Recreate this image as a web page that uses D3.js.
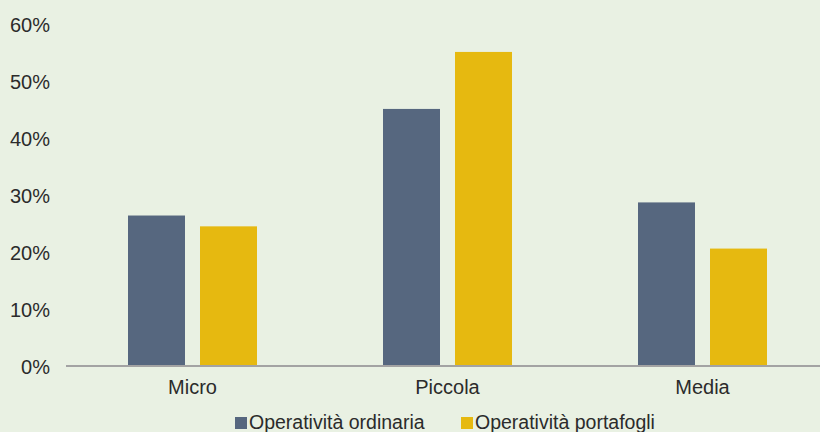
<!DOCTYPE html>
<html><head><meta charset="utf-8">
<script src="https://cdn.jsdelivr.net/npm/d3@7/dist/d3.min.js"></script>
<style>
html,body{margin:0;padding:0;background:#e9f1e3;}
text{font-family:"Liberation Sans",Arial,Helvetica,sans-serif;fill:#2b2b2b;}
</style></head>
<body>
<svg id="chart" width="820" height="432"></svg>
<script>
const categories = ["Micro", "Piccola", "Media"];
const seriesNames = ["Operatività ordinaria", "Operatività portafogli"];
const ordinaria = [26.4, 45.1, 28.7];
const portafogli = [24.5, 55.1, 20.6];
const yTicks = [0, 10, 20, 30, 40, 50, 60];
const colors = ["#56677f", "#e6b910"];

const svg = d3.select("#chart");
svg.append("rect").attr("width", 820).attr("height", 432).attr("fill", "#e9f1e3");

const y = d3.scaleLinear().domain([0, 60]).range([366, 24]);
const x0 = d3.scaleBand().domain(categories).range([65, 830]).paddingInner(0).paddingOuter(0);
const groupW = 129;
const x1 = d3.scaleBand().domain(seriesNames).range([0, groupW]).paddingInner(15/72).paddingOuter(0);
const off = (x0.bandwidth() - groupW) / 2;

const data = categories.map((c, i) => ({cat: c, vals: [ordinaria[i], portafogli[i]]}));

// y axis labels
const yAxis = d3.axisLeft(y).tickValues(yTicks).tickFormat(d => d + "%").tickSize(0).tickPadding(0);
const ya = svg.append("g").attr("transform", "translate(50,1.5)").call(yAxis);
ya.select(".domain").remove();
ya.selectAll("text").style("font-size", "20px").attr("fill", "#2b2b2b")
  .style("font-family", "'Liberation Sans',Arial,sans-serif");

// bars
const g = svg.append("g");
data.forEach(d => {
  d.vals.forEach((v, j) => {
    g.append("rect")
      .attr("x", x0(d.cat) + off + x1(seriesNames[j]))
      .attr("y", y(v))
      .attr("width", x1.bandwidth())
      .attr("height", y(0) - y(v))
      .attr("fill", colors[j]);
  });
});

// x axis
const xAxis = d3.axisBottom(x0).tickSize(0).tickPadding(14);
const xa = svg.append("g").attr("transform", "translate(0,366)").call(xAxis);
xa.select(".domain").remove();
xa.selectAll("text").style("font-size", "20px").attr("fill", "#2b2b2b")
  .style("font-family", "'Liberation Sans',Arial,sans-serif");
svg.append("line").attr("x1", 66).attr("x2", 820).attr("y1", 366).attr("y2", 366)
  .attr("stroke", "#a3a3a3").attr("stroke-width", 2);

// legend
const legendX = [235, 461];
seriesNames.forEach((s, j) => {
  svg.append("rect").attr("x", legendX[j]).attr("y", 417).attr("width", 12).attr("height", 12).attr("fill", colors[j]);
  svg.append("text").attr("x", legendX[j] + 14).attr("y", 429).text(s)
    .style("font-size", "19.5px");
});
</script>
</body></html>
